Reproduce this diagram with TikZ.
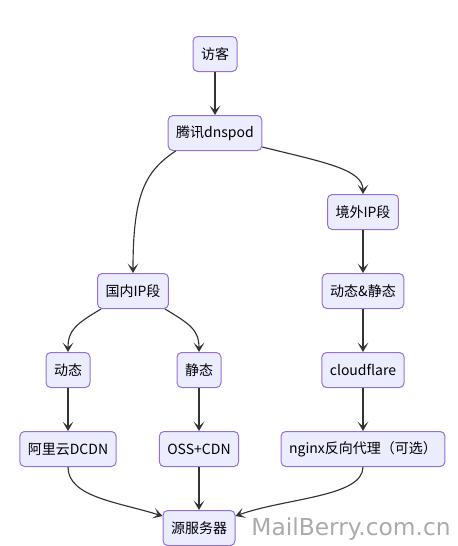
\documentclass[tikz,border=0pt]{standalone}
\usepackage{fontspec}
\setmainfont{Noto Sans CJK SC}
\newfontfamily\markfont{DejaVu Sans}
\usepackage{xcolor}
\definecolor{boxfill}{HTML}{ECECFF}
\definecolor{boxline}{HTML}{9370DB}
\definecolor{linkline}{HTML}{333333}
\definecolor{markgray}{HTML}{ABABAB}
\usetikzlibrary{positioning}
\usetikzlibrary{arrows.meta}
\usetikzlibrary{calc}

\begin{document}
\begin{tikzpicture}[x=0.75pt,y=-0.75pt,node distance=32.25pt,
	every node/.style={font=\fontsize{10.5}{12}\selectfont},
	box/.style={draw=boxline,fill=boxfill,rounded corners=3.5pt,line width=0.75pt,minimum height=26.25pt,inner xsep=6pt},
	link/.style={draw=linkline,line width=0.85pt,-{Stealth[length=7pt,width=8pt,inset=3.5pt]}}]
	\useasboundingbox (0,0) rectangle (457,546);
	\node[box] (visitor) at (215,54) {访客};
	\node[box] (dnspod) [below=of visitor] {腾讯dnspod};
	\node[box] (abroad) [below=of dnspod, xshift=111pt] {境外IP段};
	\node[box] (domestic) [below=of abroad, xshift=-172.5pt] {国内IP段};
	\node[box] (mixed) [below=of abroad] {动态\&静态};
	\node[box] (cloudflare) [below=of mixed] {cloudflare};
	\node[box] (nginx) [below=of cloudflare] {nginx反向代理（可选）};
	\node[box] (dynamic) [below=of domestic, xshift=-48.75pt] {动态};
	\node[box] (static) [below=of domestic, xshift=49.5pt] {静态};
	\node[box] (aliyun) [below=of dynamic] {阿里云DCDN};
	\node[box] (oss) [below=of static] {OSS+CDN};
	\node[box] (origin) [below=of oss] {源服务器};
	\node[font=\markfont\fontsize{17.5}{20}\selectfont, text=markgray, anchor=base east, inner sep=0pt] (mark) at (451,535) {MailBerry.com.cn};
	\path[link]
		(visitor) edge (dnspod)
		(abroad) edge (mixed)
		(mixed) edge (cloudflare)
		(cloudflare) edge (nginx)
		(dynamic) edge (aliyun)
		(static) edge (oss)
		(oss) edge (origin);
	% curved links
	\draw[link] ([xshift=6pt]dnspod.south west) .. controls +(-30,20) and +(0,-80) .. (domestic.north);
	\draw[link] ([yshift=3pt]dnspod.south east) .. controls +(60,15) and +(0,-25) .. (abroad.north);
	\draw[link] ([xshift=3pt]domestic.south west) .. controls +(-25,15) and +(0,-22) .. (dynamic.north);
	\draw[link] ([xshift=-3pt]domestic.south east) .. controls +(25,15) and +(0,-22) .. (static.north);
	\draw[link] (aliyun.south) .. controls +(0,30) and +(-45,-14) .. ([yshift=-4.5pt]origin.north west);
	\draw[link] (nginx.south) .. controls +(0,30) and +(50,-18) .. ([yshift=-4.5pt]origin.north east);
\end{tikzpicture}
\end{document}
